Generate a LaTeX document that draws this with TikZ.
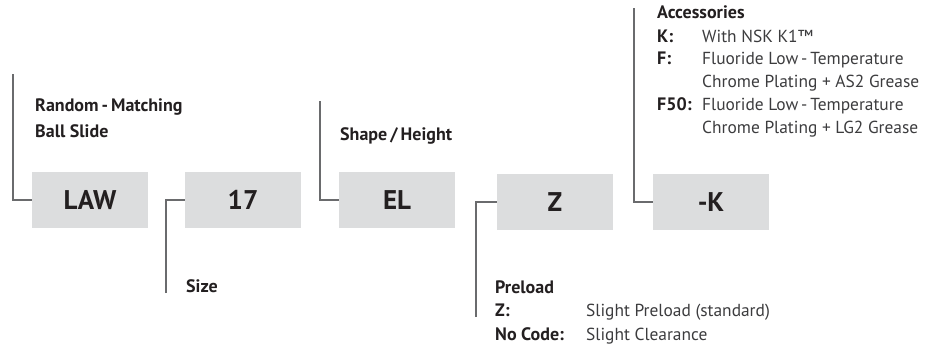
\documentclass[tikz,border=0pt]{standalone}
\usepackage{fontspec}
\setmainfont{PT Sans}
\definecolor{boxgray}{HTML}{DCDDDE}
\definecolor{linegray}{HTML}{6A6B6D}
\definecolor{txt}{HTML}{231F20}
\definecolor{txtlight}{HTML}{3C3C3E}
\begin{document}
\begin{tikzpicture}[x=1pt,y=-1pt,
  box/.style={fill=boxgray, minimum width=116pt, minimum height=56pt, inner sep=0pt,
    font=\fontsize{27}{27}\selectfont\bfseries, text=txt},
  conn/.style={draw=linegray, line width=2pt},
  head/.style={anchor=base west, inner sep=0pt, font=\fontsize{18}{18}\selectfont\bfseries, text=txt},
  body/.style={anchor=base west, inner sep=0pt, font=\fontsize{17.4}{17.4}\selectfont, text=txtlight}]
\useasboundingbox (0,0) rectangle (930,349);
% boxes
\node[box] (law) at (90,200) {LAW};
\node[box] (n17) at (243,200) {17};
\node[box] (el) at (397,200) {EL};
\node[box] (z) at (555,202) {Z};
\node[box] (k) at (711,202) {-K};
% connectors
\coordinate (lawtop) at (13,74);
\coordinate (sizebot) at (166,293);
\coordinate (eltop) at (320,101);
\coordinate (zbot) at (476,317);
\coordinate (ktop) at (634,8);
\draw[conn] (lawtop) |- (law.west);
\draw[conn] (sizebot) |- (n17.west);
\draw[conn] (eltop) |- (el.west);
\draw[conn] (zbot) |- (z.west);
\draw[conn] (ktop) |- (k.west);
% labels
\node[head] (rm1) at (35,111) {Random\,-\,Matching};
\node[head] (rm2) at (35,137) {Ball Slide};
\node[head] (sh) at (340,140) {Shape\,/\,Height};
\node[head] (sz) at (186,292) {Size};
% preload
\node[head] (pl) at (495,293) {Preload};
\node[head] (plz) at (495,316) {Z:};
\node[body] (plzd) at (586,316) {Slight Preload (standard)};
\node[head] (plnc) at (495,340) {No Code:};
\node[body] (plncd) at (586,340) {Slight Clearance};
% accessories
\node[head] (ac) at (657,18) {Accessories};
\node[head] (ack) at (657,42) {K:};
\node[body] (ackd) at (702,42) {With NSK K1™};
\node[head] (acf) at (657,64) {F:};
\node[body] (acfd1) at (702,64) {Fluoride Low\,-\,Temperature};
\node[body] (acfd2) at (702,87) {Chrome Plating + AS2 Grease};
\node[head] (acf50) at (657,110) {F50:};
\node[body] (acf50d1) at (702,110) {Fluoride Low\,-\,Temperature};
\node[body] (acf50d2) at (702,133) {Chrome Plating + LG2 Grease};
\end{tikzpicture}
\end{document}
